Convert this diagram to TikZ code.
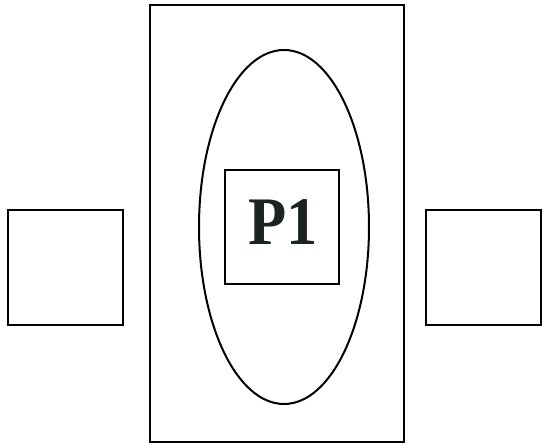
\documentclass[tikz,border=0pt]{standalone}
\usepackage{fontspec}
\newfontfamily\pfont{Liberation Serif Bold}
\usetikzlibrary{shapes.geometric}
\definecolor{inkdark}{HTML}{1A2420}
\tikzset{
  box/.style={draw=black, line width=2pt, fill=none},
}
\begin{document}
\begin{tikzpicture}[x=1pt,y=-1pt]
\useasboundingbox (0,0) rectangle (550,443);
\draw[box] (150,5) rectangle (404,442);
\node[draw=black, line width=2pt, ellipse, minimum width=170pt, minimum height=354pt, inner sep=0pt] (ell) at (284,227) {};
\node[box, minimum width=114pt, minimum height=114pt, inner sep=0pt] (p1) at (282,227) {};
\node[text=inkdark, font=\pfont\fontsize{68}{68}\selectfont, inner sep=0pt] (p1t) at (283.5,222.5) {\scalebox{0.92}[1]{P1}};
\node[box, minimum width=115pt, minimum height=115pt, inner sep=0pt] (left) at (65.5,267.5) {};
\node[box, minimum width=115pt, minimum height=115pt, inner sep=0pt] (right) at (483.5,267.5) {};
\end{tikzpicture}
\end{document}
